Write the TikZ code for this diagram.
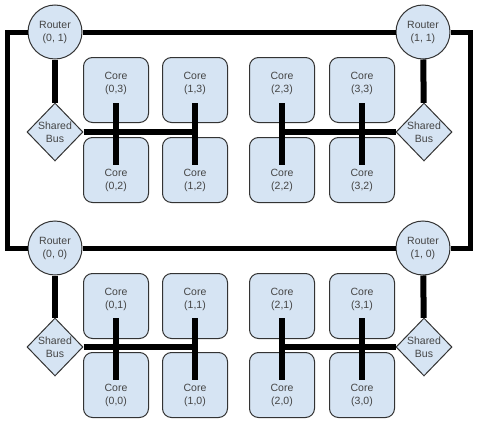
\documentclass[tikz,border=0pt]{standalone}
\usepackage{fontspec}
\setmainfont{Liberation Sans}
\usetikzlibrary{shapes.geometric}
\definecolor{boxblue}{HTML}{D6E4F3}
\definecolor{txtgray}{HTML}{444444}

\begin{document}
\begin{tikzpicture}[x=1pt,y=-1pt,
   box/.style={draw=black!80,line width=1pt,fill=boxblue},
   router/.style={box,circle,minimum size=54pt,inner sep=0pt},
   bus/.style={box,diamond,minimum width=56pt,minimum height=58pt,inner sep=0pt},
   core/.style={box,rounded corners=9pt,minimum size=65pt,inner sep=0pt},
   lab/.style={text=txtgray,align=center,font=\fontsize{10.5}{13}\selectfont},
   ring/.style={line width=5pt,line join=miter},
   wire/.style={line width=6pt}]
   \useasboundingbox (0,0) rectangle (480,431);
   % ring corners
   \coordinate (nw) at (7,32);
   \coordinate (ne) at (470,32);
   \coordinate (sw) at (7,248);
   \coordinate (se) at (470,248);
   % cores, upper block
   \node[core] (c03) at (116, 90) {};
   \node[core] (c13) at (195, 90) {};
   \node[core] (c23) at (282, 90) {};
   \node[core] (c33) at (362, 90) {};
   \node[core] (c02) at (116,170) {};
   \node[core] (c12) at (195,170) {};
   \node[core] (c22) at (282,170) {};
   \node[core] (c32) at (362,170) {};
   % cores, lower block
   \node[core] (c01) at (116,306) {};
   \node[core] (c11) at (195,306) {};
   \node[core] (c21) at (282,306) {};
   \node[core] (c31) at (362,306) {};
   \node[core] (c00) at (116,385) {};
   \node[core] (c10) at (195,385) {};
   \node[core] (c20) at (282,385) {};
   \node[core] (c30) at (362,385) {};
   \node[lab] (l03) at (116, 83) {Core\\(0,3)};
   \node[lab] (l13) at (195, 83) {Core\\(1,3)};
   \node[lab] (l23) at (282, 83) {Core\\(2,3)};
   \node[lab] (l33) at (362, 83) {Core\\(3,3)};
   \node[lab] (l02) at (116,180) {Core\\(0,2)};
   \node[lab] (l12) at (195,180) {Core\\(1,2)};
   \node[lab] (l22) at (282,180) {Core\\(2,2)};
   \node[lab] (l32) at (362,180) {Core\\(3,2)};
   \node[lab] (l01) at (116,299) {Core\\(0,1)};
   \node[lab] (l11) at (195,299) {Core\\(1,1)};
   \node[lab] (l21) at (282,299) {Core\\(2,1)};
   \node[lab] (l31) at (362,299) {Core\\(3,1)};
   \node[lab] (l00) at (116,395) {Core\\(0,0)};
   \node[lab] (l10) at (195,395) {Core\\(1,0)};
   \node[lab] (l20) at (282,395) {Core\\(2,0)};
   \node[lab] (l30) at (362,395) {Core\\(3,0)};
   % routers and buses
   \node[router,lab] (r01) at (55, 32) {Router\\(0, 1)};
   \node[router,lab] (r11) at (423, 32) {Router\\(1, 1)};
   \node[router,lab] (r00) at (55,248) {Router\\(0, 0)};
   \node[router,lab] (r10) at (423,248) {Router\\(1, 0)};
   \node[bus,lab] (b01) at (55,132) {Shared\\Bus};
   \node[bus,lab] (b11) at (424,132) {Shared\\Bus};
   \node[bus,lab] (b00) at (55,347) {Shared\\Bus};
   \node[bus,lab] (b10) at (424,347) {Shared\\Bus};
   % ring
   \draw[ring] (r01) -- (r11);
   \draw[ring] (r00) -- (r10);
   \draw[ring] (r01) -- (nw) -- (sw) -- (r00);
   \draw[ring] (r11) -- (ne) -- (se) -- (r10);
   % router to bus
   \draw[wire] (r01) -- (b01);
   \draw[wire] (r11) -- (b11);
   \draw[wire] (r00) -- (b00);
   \draw[wire] (r10) -- (b10);
   % buses
   \draw[wire] (b01.east) -- ([xshift=3pt]b01.east -| c13.center);
   \draw[wire] (b11.west) -- ([xshift=-3pt]b11.west -| c23.center);
   \draw[wire] (b00.east) -- ([xshift=3pt]b00.east -| c11.center);
   \draw[wire] (b10.west) -- ([xshift=-3pt]b10.west -| c21.center);
   % core pairs
   \draw[wire] ([yshift=-13pt]c03.center) -- ([yshift=5pt]c02.center);
   \draw[wire] ([yshift=-13pt]c13.center) -- ([yshift=5pt]c12.center);
   \draw[wire] ([yshift=-13pt]c23.center) -- ([yshift=5pt]c22.center);
   \draw[wire] ([yshift=-13pt]c33.center) -- ([yshift=5pt]c32.center);
   \draw[wire] ([yshift=-12pt]c01.center) -- ([yshift=5pt]c00.center);
   \draw[wire] ([yshift=-12pt]c11.center) -- ([yshift=5pt]c10.center);
   \draw[wire] ([yshift=-12pt]c21.center) -- ([yshift=5pt]c20.center);
   \draw[wire] ([yshift=-12pt]c31.center) -- ([yshift=5pt]c30.center);
\end{tikzpicture}
\end{document}
